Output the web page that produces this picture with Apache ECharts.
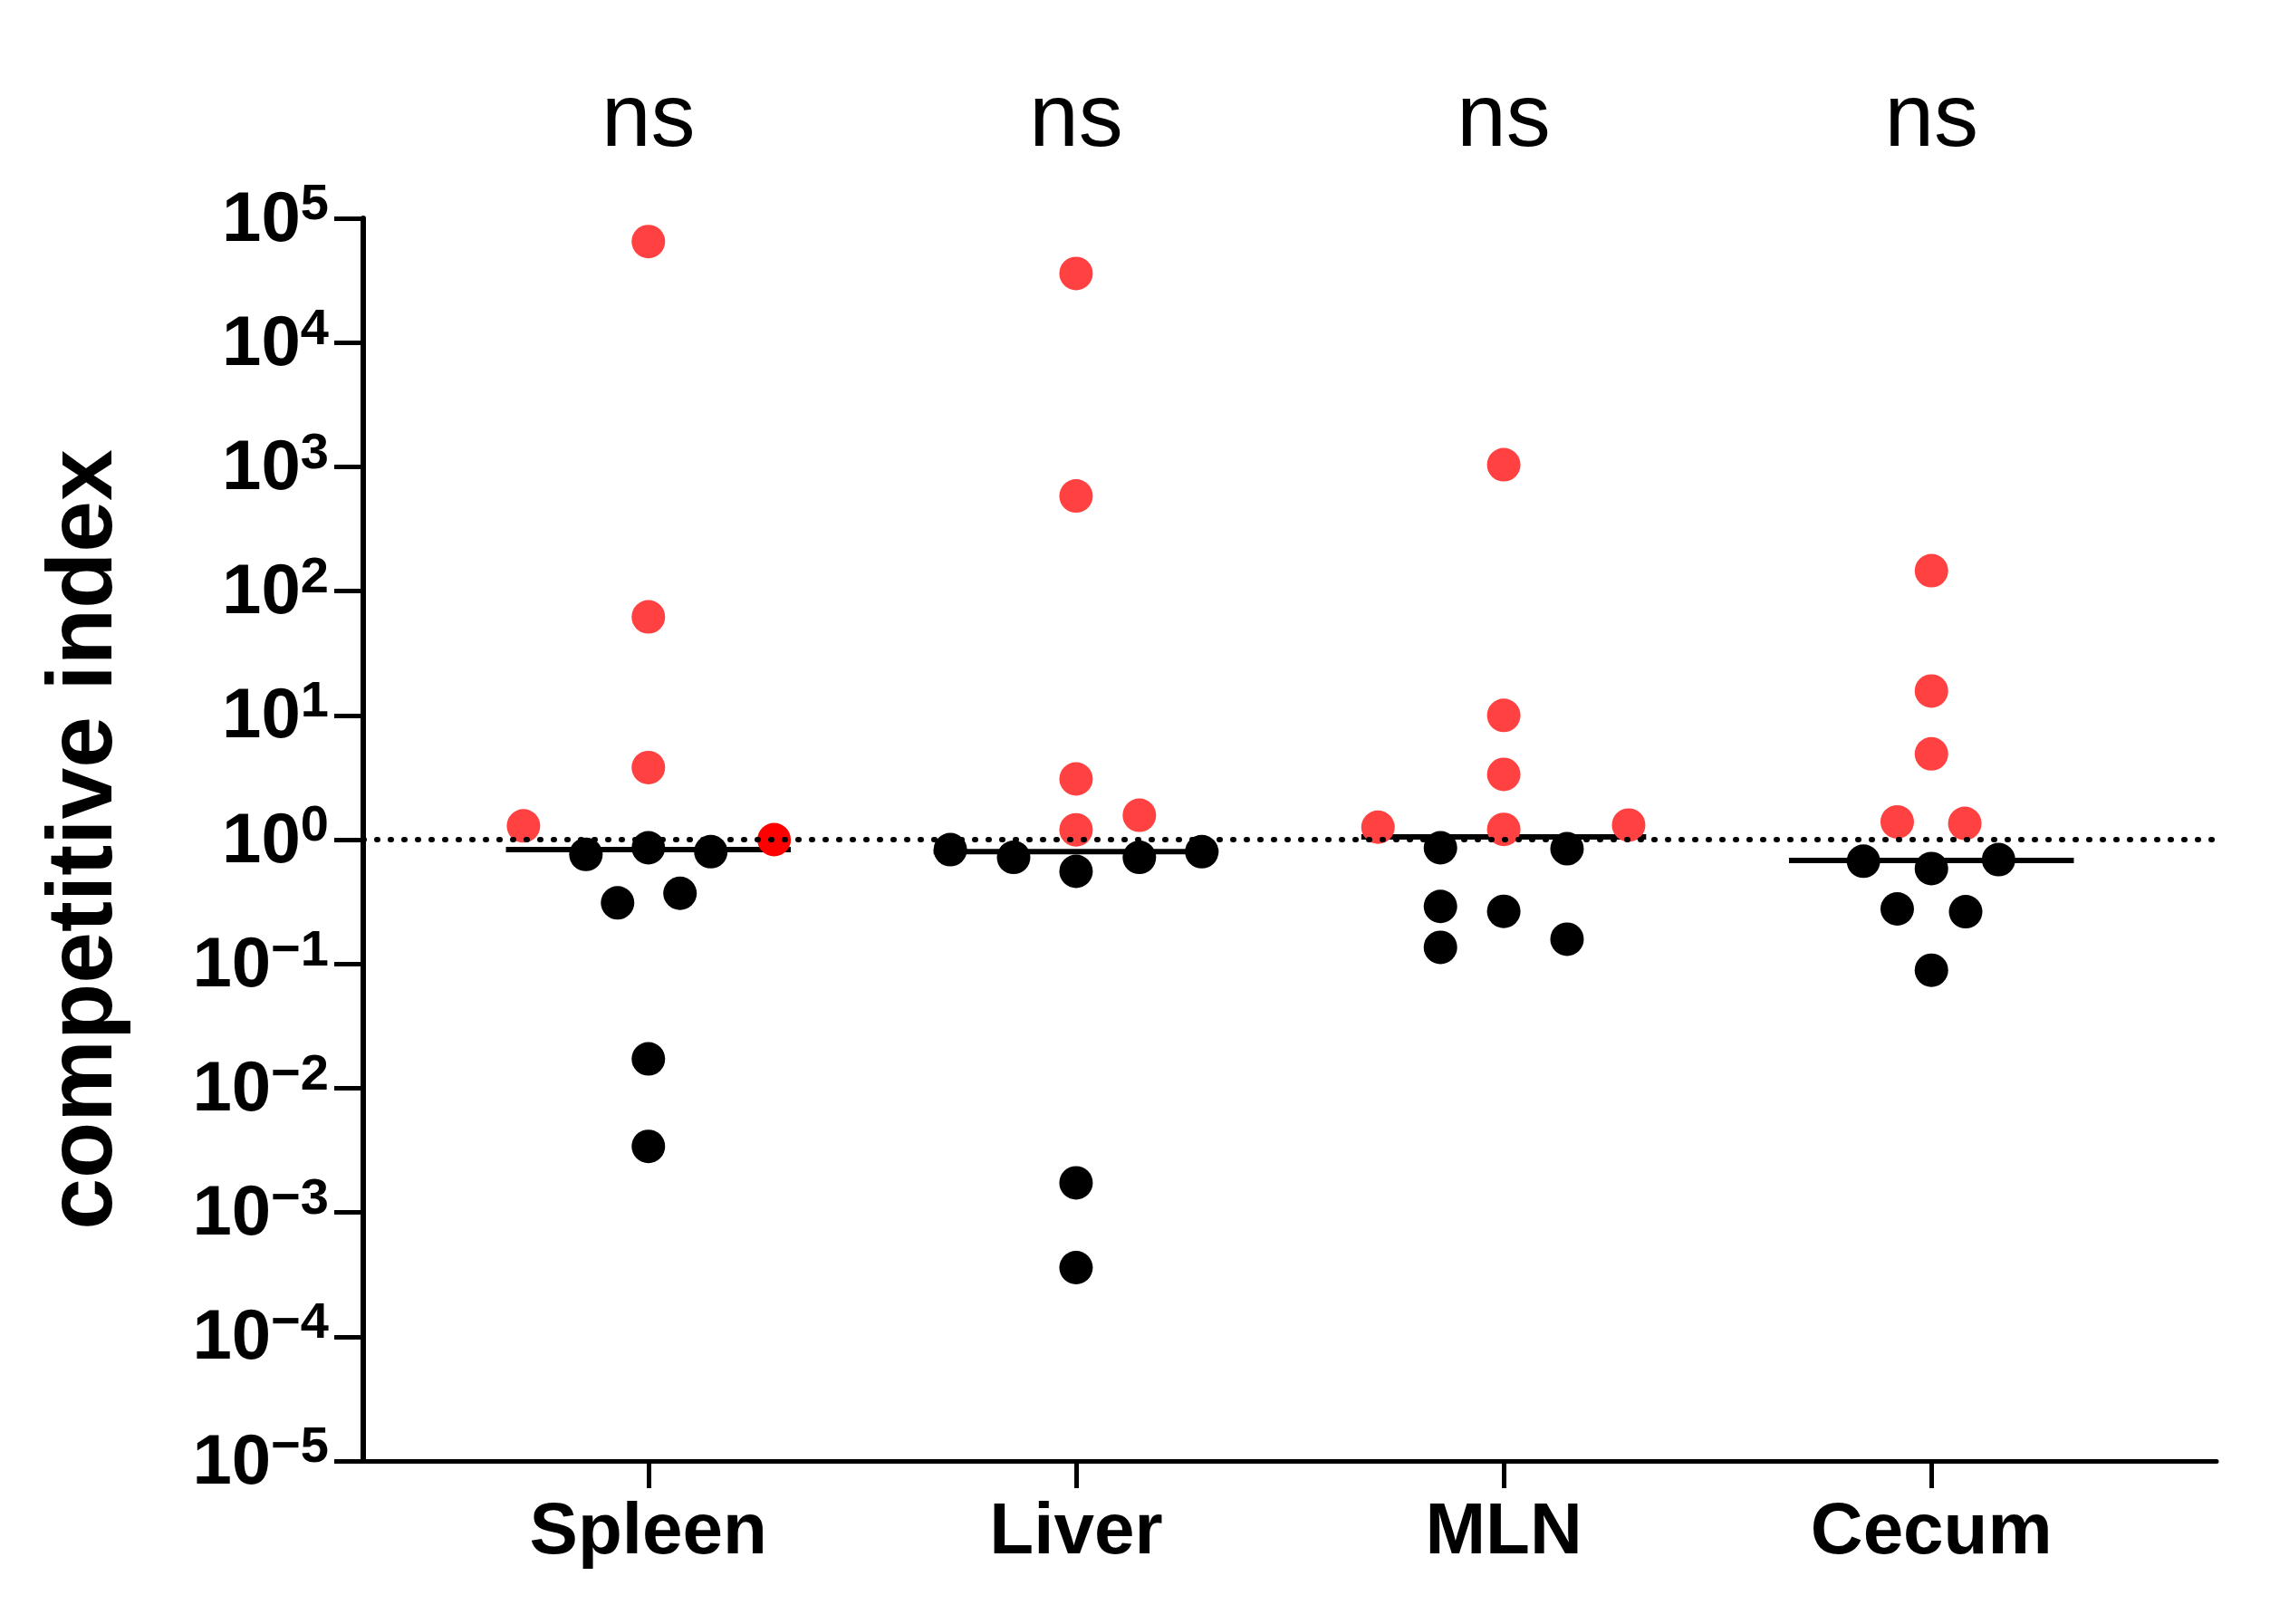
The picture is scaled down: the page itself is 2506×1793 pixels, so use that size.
<!DOCTYPE html>
<html>
<head>
<meta charset="utf-8">
<script src="https://cdn.jsdelivr.net/npm/echarts@6/dist/echarts.min.js"></script>
<style>
html,body{margin:0;padding:0;background:#fff;}
#chart{width:2506px;height:1793px;}
</style>
</head>
<body>
<div id="chart"></div>
<script>
// ---- data ----
const categories = ['Spleen', 'Liver', 'MLN', 'Cecum'];
const sigLabels = ['ns', 'ns', 'ns', 'ns'];
const yAxisName = 'competitive index';

// values (competitive index) and horizontal swarm offsets (in category units)
const spleenRed = [65000, 62, 3.8, 1.29];
const spleenRedDx = [0, 0, 0, -0.292];
const spleenBrightRed = [1.0];
const spleenBrightRedDx = [0.294];
const spleenBlack = [0.76, 0.86, 0.80, 0.31, 0.37, 0.0172, 0.0034];
const spleenBlackDx = [-0.146, 0, 0.146, -0.072, 0.074, 0, 0];

const liverRed = [36000, 583, 3.08, 1.2, 1.57];
const liverRedDx = [0, 0, 0, 0, 0.148];
const liverBlack = [0.83, 0.72, 0.556, 0.72, 0.80, 0.00173, 0.00036];
const liverBlackDx = [-0.294, -0.146, 0, 0.148, 0.294, 0, 0];

const mlnRed = [1040, 10, 3.35, 1.21, 1.26, 1.31];
const mlnRedDx = [0, 0, 0, 0, -0.294, 0.292];
const mlnBlack = [0.86, 0.845, 0.29, 0.265, 0.136, 0.158];
const mlnBlackDx = [-0.148, 0.148, -0.148, 0, -0.148, 0.148];

const cecumRed = [146, 15.7, 4.9, 1.39, 1.35];
const cecumRedDx = [0, 0, 0, -0.08, 0.078];
const cecumBlack = [0.67, 0.585, 0.69, 0.277, 0.263, 0.089];
const cecumBlackDx = [-0.159, 0, 0.157, -0.08, 0.08, 0];

const medians = [0.83, 0.80, 1.05, 0.68];
const medianHalfWidth = 0.333;
const referenceValue = 1;

// ---- build ----
const redGroups = [[spleenRed, spleenRedDx], [liverRed, liverRedDx], [mlnRed, mlnRedDx], [cecumRed, cecumRedDx]];
const blackGroups = [[spleenBlack, spleenBlackDx], [liverBlack, liverBlackDx], [mlnBlack, mlnBlackDx], [cecumBlack, cecumBlackDx]];

function pts(groups) {
  const out = [];
  groups.forEach(function (g, i) {
    g[0].forEach(function (v, j) { out.push([i + 1 + g[1][j], Math.log10(v)]); });
  });
  return out;
}
const redPts = pts(redGroups);
const blackPts = pts(blackGroups);
const brightPts = spleenBrightRed.map(function (v, j) { return [1 + spleenBrightRedDx[j], Math.log10(v)]; });

const FONT = '"Liberation Sans", Arial, Helvetica, sans-serif';
const catTicks = categories.map(function (c, i) { return i + 1; });

const series = [];
medians.forEach(function (m, i) {
  series.push({
    type: 'line', silent: true, symbol: 'none', z: 2,
    data: [[i + 1 - medianHalfWidth, Math.log10(m)], [i + 1 + medianHalfWidth, Math.log10(m)]],
    lineStyle: { color: '#000', width: 6 },
    markLine: i === 0 ? {
      silent: true, symbol: 'none', label: { show: false },
      lineStyle: { color: '#000', width: 6, type: [1, 14], cap: 'round', opacity: 1 },
      data: [{ yAxis: Math.log10(referenceValue) }]
    } : undefined
  });
});
series.push({ type: 'scatter', data: blackPts, symbolSize: 37, itemStyle: { color: '#000', opacity: 1 }, z: 3 });
series.push({ type: 'scatter', data: redPts, symbolSize: 37, itemStyle: { color: '#FF4141', opacity: 1 }, z: 4 });
series.push({ type: 'scatter', data: brightPts, symbolSize: 37, itemStyle: { color: '#FF0000', opacity: 1 }, z: 4 });

const chart = echarts.init(document.getElementById('chart'), null, { renderer: 'canvas' });
chart.setOption({
  animation: false,
  backgroundColor: '#fff',
  grid: { left: 401, right: 59, top: 241, bottom: 180 },
  xAxis: [{
    type: 'value', min: 1 / 3, max: 14 / 3, position: 'bottom',
    splitLine: { show: false },
    axisLine: { show: true, onZero: false, lineStyle: { color: '#000', width: 5 } },
    axisTick: { show: true, customValues: catTicks, length: 30, lineStyle: { color: '#000', width: 5 } },
    axisLabel: {
      customValues: catTicks, margin: 40,
      formatter: function (v) { return categories[Math.round(v) - 1]; },
      fontFamily: FONT, fontWeight: 'bold', fontSize: 80, color: '#000'
    }
  }, {
    type: 'value', min: 1 / 3, max: 14 / 3, position: 'top',
    splitLine: { show: false },
    axisLine: { show: false, onZero: false }, axisTick: { show: false },
    axisLabel: {
      customValues: catTicks, margin: 58,
      formatter: function (v) { return sigLabels[Math.round(v) - 1]; },
      fontFamily: FONT, fontSize: 98, color: '#000'
    }
  }],
  yAxis: {
    type: 'value', min: -5, max: 5, interval: 1,
    splitLine: { show: false },
    axisLine: { show: true, onZero: false, lineStyle: { color: '#000', width: 6 } },
    axisTick: { show: true, length: 32, lineStyle: { color: '#000', width: 5 } },
    axisLabel: {
      margin: 38,
      formatter: function (v) {
        const e = Math.round(v);
        return '{b|10}{s|' + (e < 0 ? '\u2212' + (-e) : e) + '}';
      },
      rich: {
        b: { fontFamily: FONT, fontWeight: 'bold', fontSize: 78, color: '#000', verticalAlign: 'bottom', lineHeight: 84 },
        s: { fontFamily: FONT, fontWeight: 'bold', fontSize: 56, color: '#000', verticalAlign: 'top', lineHeight: 84 }
      }
    },
    name: yAxisName, nameLocation: 'middle', nameGap: 255, nameRotate: 90,
    nameTextStyle: { fontFamily: FONT, fontWeight: 'bold', fontSize: 102, color: '#000' }
  },
  series: series
});
</script>
</body>
</html>
